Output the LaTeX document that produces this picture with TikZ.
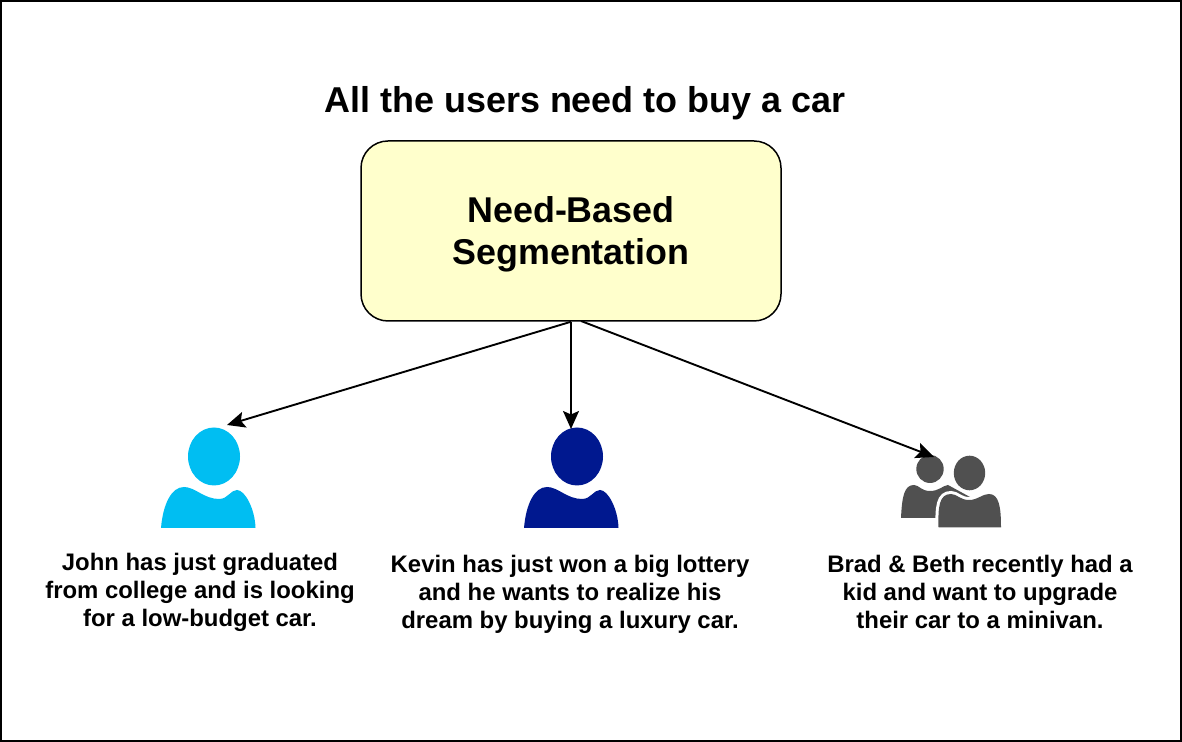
\documentclass[tikz,border=0pt]{standalone}
\usepackage{fontspec}
\setmainfont{Liberation Sans}
\usepackage{xcolor}
\usetikzlibrary{arrows.meta}
\definecolor{johnblue}{HTML}{00BEF2}
\definecolor{kevinblue}{HTML}{00188F}
\definecolor{familygray}{HTML}{505050}
\definecolor{segyellow}{HTML}{FFFFCC}

\begin{document}
\begin{tikzpicture}[
    >={Stealth[length=0.36cm,width=0.32cm,inset=0.07cm]},
    seg/.style={draw, line width=0.03cm, rounded corners=0.54cm, align=center, minimum height=3.6cm, minimum width=8.4cm, fill=segyellow, font=\fontsize{20.4}{23.9}\selectfont\bfseries},
    title/.style={font=\fontsize{20.45}{24}\selectfont\bfseries},
    caption/.style={align=center, font=\fontsize{13.6}{15.9}\selectfont\bfseries},
    link/.style={->, line width=0.038cm},
    person/.pic={
        \fill[pic actions] (0,0) ellipse (0.52 and 0.58);
        \fill[pic actions] (-1.06,-1.43) .. controls (-1.02,-0.95) and (-0.85,-0.61) .. (-0.6,-0.61)
            .. controls (-0.38,-0.61) and (-0.2,-0.85) .. (0.1,-0.85)
            .. controls (0.28,-0.85) and (0.33,-0.67) .. (0.46,-0.67)
            .. controls (0.62,-0.67) and (0.82,-1.05) .. (0.83,-1.43) -- cycle;
    }
]
\useasboundingbox (0,0) rectangle (23.64,14.84);
\draw[line width=0.04cm] (0.02,0.02) rectangle (23.62,14.82);

\node[title] (heading) at (11.7,12.77) {All the users need to buy a car};
\node[seg] (segment) at (11.42,10.22) {\rule{0pt}{18.3pt}Need-Based\\Segmentation};

% the three users
\pic[fill=johnblue] at (4.28,5.71) {person};
\pic[fill=kevinblue] at (11.54,5.71) {person};

% the couple
\fill[familygray] (18.6,5.46) ellipse (0.274 and 0.28);
\fill[familygray] (18.02,4.48) .. controls (18.04,4.9) and (18.08,5.14) .. (18.28,5.14)
    .. controls (18.38,5.14) and (18.42,5.02) .. (18.6,5.02)
    .. controls (18.78,5.02) and (18.84,5.12) .. (18.96,5.14)
    -- (19.4,4.9) -- (19.2,4.48) -- cycle;
\fill[familygray] (19.39,5.38) ellipse (0.314 and 0.346);
\fill[familygray, preaction={draw=white, line width=0.12cm}] (18.77,4.29)
    .. controls (18.76,4.7) and (18.78,4.96) .. (19.02,4.96)
    .. controls (19.14,4.96) and (19.2,4.84) .. (19.38,4.84)
    .. controls (19.56,4.84) and (19.64,4.96) .. (19.78,4.96)
    .. controls (19.98,4.96) and (20.02,4.7) .. (20.02,4.29) -- cycle;

\node[caption] (john) at (4,3.0) {John has just graduated\\from college and is looking\\for a low-budget car.};
\node[caption] (kevin) at (11.4,2.96) {Kevin has just won a big lottery\\and he wants to realize his\\dream by buying a luxury car.};
\node[caption] (family) at (19.6,3) {Brad \& Beth recently had a\\kid and want to upgrade\\their car to a minivan.};

\coordinate (johntip) at (4.54,6.34);
\coordinate (kevintip) at (11.42,6.26);
\coordinate (familytip) at (18.68,5.7);
\coordinate (familyfoot) at (11.62,8.42);

\draw[link] (segment.south) -- (johntip);
\draw[link] (segment.south) -- (kevintip);
\draw[link] (familyfoot) -- (familytip);

\end{tikzpicture}
\end{document}
